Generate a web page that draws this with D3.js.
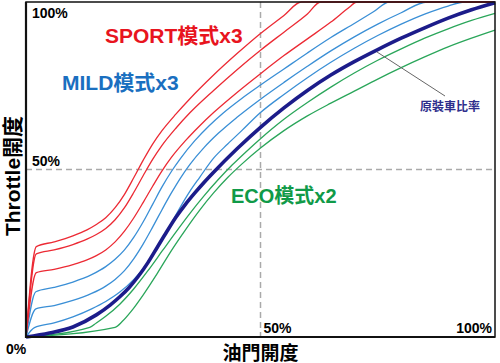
<!DOCTYPE html>
<html>
<head>
<meta charset="utf-8">
<script src="https://cdn.jsdelivr.net/npm/d3@7"></script>
<style>
  body { margin: 0; background: #fff; }
  svg { display: block; font-family: "Liberation Sans", Arial, "Noto Sans CJK TC", sans-serif; }
</style>
</head>
<body>
<div id="chart"></div>
<script>
// throttle maps, input % -> output %
var sport1 = [[0,0],[2.2,27],[6,28.4],[10,30.2],[13,32],[15,33.6],[17,35.6],[19,38.6],[21,42.6],[23,47.6],[25,52.8],[27,57.6],[29,61.6],[32,66.6],[35,71.2],[40,78.2],[45,84.6],[50,90.6],[55,96],[58.7,100],[100,100]];
var sport2 = [[0,0],[2.2,24.8],[6,26],[10,27.6],[13,29.2],[15,30.6],[17,32.4],[19,35],[21,38.6],[23,43.2],[25,48.2],[27,53],[29,57.2],[32,62.4],[35,67],[40,73.6],[45,79.8],[50,85.6],[55,91],[60,96.4],[62.8,100],[100,100]];
var sport3 = [[0,0],[2.2,19.2],[6,20.2],[10,21.6],[13,23],[15,24.3],[17,26],[19,28.4],[21,31.6],[23,35.6],[25,40.2],[27,45],[29,49.6],[31,53.6],[34,58.6],[37,63],[40,67],[45,73],[50,78.6],[55,84],[60,89],[65,94],[69,98.5],[70.5,100],[100,100]];
var mild1 = [[0,0],[2.1,13.5],[6,14.8],[10,16.4],[14,18.6],[17,21],[19,23.2],[21,26],[23,29.8],[25,34.4],[27,39.6],[29,44.8],[31,49.4],[33,53.4],[36,58.6],[39,63],[42,66.8],[46,71.2],[50,75.2],[55,80],[60,84.8],[65,89.4],[70,93.6],[74,97],[77.5,100],[100,100]];
var mild2 = [[0,0],[2.1,8.4],[6,9.4],[10,10.9],[14,13],[17,15.2],[19,17.2],[21,19.8],[23,23.4],[25,27.8],[27,32.8],[29,38],[31,43],[33,47.6],[35,51.6],[38,56.6],[41,60.8],[45,65.6],[50,71],[55,76],[60,80.8],[65,85.4],[70,89.6],[75,93.4],[80,96.8],[85.5,100],[100,100]];
var mild3 = [[0,0],[1.8,2.8],[6,4.2],[10,6],[14,8.4],[17,10.6],[20,13.4],[23,17.2],[25,20.4],[27,24.4],[29,29],[31,34],[33,39],[35,43.6],[37,47.6],[40,53.4],[43,57.6],[46,61.6],[50,67],[55,72.4],[60,77.4],[65,82],[70,86.2],[75,90],[80,93.4],[85,96.4],[90,98.8],[93.5,100],[100,100]];
var stock = [[0,0],[5,1.2],[10,3],[15,6.6],[18,9.6],[20,12],[22,14.8],[24,18.2],[26,22.2],[28,26.8],[30,31.4],[32,35.8],[34,39.6],[36,43],[38,46.2],[40,49.2],[45,56.2],[50,62.6],[55,68.4],[60,73.6],[65,78.2],[70,82.2],[75,85.8],[80,89.2],[85,92.3],[90,95.2],[95,97.7],[100,99.8]];
var eco1 = [[0,0],[13.6,2.9],[15,4.2],[17,6.2],[20,9.8],[23,14.4],[26,19.8],[29,25.6],[32,31.4],[35,37],[38,42.2],[41,47],[44,51.4],[47,55.4],[50,59.2],[55,65],[60,70],[65,74.6],[70,78.8],[75,82.6],[80,86],[85,89.2],[90,92],[95,94.5],[100,96.6]];
var eco2 = [[0,0],[19,2.9],[20.5,4.6],[22.5,7.8],[25,12.6],[28,19],[31,25.8],[34,32],[37,37.8],[40,43],[43,47.6],[46,51.6],[50,56.4],[55,61.6],[60,66],[65,69.8],[70,73.4],[75,77],[80,80.4],[85,83.6],[90,86.6],[95,89.2],[100,91.6]];

var xTickValues = [50, 100];
var xTickLabels = ["50%", "100%"];
var yTickValues = [50, 100];
var yTickLabels = ["50%", "100%"];
var originLabel = "0%";

var width = 500, height = 363;
var margin = {top: 2, right: 5, bottom: 26, left: 26};

var svg = d3.select("#chart").append("svg")
	.attr("width", width)
	.attr("height", height);

var x = d3.scaleLinear().domain([0, 100]).range([margin.left, width - margin.right]);
var y = d3.scaleLinear().domain([0, 100]).range([height - margin.bottom, margin.top]);

// dashed 50% guides
svg.append("line")
	.attr("x1", x(0)).attr("x2", x(100))
	.attr("y1", y(50)).attr("y2", y(50))
	.style("stroke", "#aaa").style("stroke-width", 1.5).style("stroke-dasharray", "6,4");
svg.append("line")
	.attr("x1", x(50)).attr("x2", x(50))
	.attr("y1", y(100)).attr("y2", y(0))
	.style("stroke", "#aaa").style("stroke-width", 1.5).style("stroke-dasharray", "6,4");

var line = d3.line()
	.x(function(d){ return x(d[0]); })
	.y(function(d){ return y(d[1]); })
	.curve(d3.curveMonotoneX);

var series = [
	{data: mild1, color: "#3a8fd6", w: 1.3},
	{data: mild2, color: "#3a8fd6", w: 1.3},
	{data: mild3, color: "#3a8fd6", w: 1.3},
	{data: eco1, color: "#2aa65a", w: 1.3},
	{data: eco2, color: "#2aa65a", w: 1.3},
	{data: sport1, color: "#ec2a34", w: 1.3},
	{data: sport2, color: "#ec2a34", w: 1.3},
	{data: sport3, color: "#ec2a34", w: 1.3},
	{data: stock, color: "#1c1c8a", w: 3.6}
];

svg.append("g")
	.selectAll("path")
	.data(series)
  .enter().append("path")
	.attr("d", function(d){ return line(d.data); })
	.style("fill", "none")
	.style("stroke", function(d){ return d.color; })
	.style("stroke-width", function(d){ return d.w; });

// frame
svg.append("rect")
	.attr("x", x(0)).attr("y", y(100))
	.attr("width", x(100) - x(0)).attr("height", y(0) - y(100))
	.style("fill", "none").style("stroke", "#111").style("stroke-width", 1.5);
svg.append("path")
	.attr("d", "M" + x(0) + "," + y(100) + "V" + y(0) + "H" + x(100))
	.style("fill", "none").style("stroke", "#111").style("stroke-width", 2.2);

// tick labels inside the frame
svg.selectAll(".xt")
	.data(xTickValues)
  .enter().append("text")
	.attr("class", "xt")
	.attr("x", function(d, i){ return i == xTickValues.length - 1 ? x(d) - 3 : x(d) + 3; })
	.attr("y", y(0) - 4)
	.attr("text-anchor", function(d, i){ return i == xTickValues.length - 1 ? "end" : "start"; })
	.style("font-size", "14px").style("font-weight", "bold")
	.text(function(d, i){ return xTickLabels[i]; });

svg.selectAll(".yt")
	.data(yTickValues)
  .enter().append("text")
	.attr("class", "yt")
	.attr("x", x(0) + 6)
	.attr("y", function(d){ return d == 100 ? y(d) + 16 : y(d) - 4; })
	.style("font-size", "14px").style("font-weight", "bold")
	.text(function(d, i){ return yTickLabels[i]; });

svg.append("text")
	.attr("x", 6).attr("y", 354)
	.style("font-size", "14px").style("font-weight", "bold")
	.text(originLabel);

// axis titles
svg.append("text")
	.attr("x", x(50)).attr("y", 360)
	.attr("text-anchor", "middle")
	.style("font-size", "19px").style("font-weight", "bold")
	.text("油門開度");

svg.append("text")
	.attr("transform", "translate(20," + 176 + ") rotate(-90)")
	.attr("text-anchor", "middle")
	.style("font-size", "21px").style("font-weight", "bold")
	.text("Throttle開度");

// series labels
svg.append("text").attr("x", 105).attr("y", 43)
	.style("font-size", "21px").style("font-weight", "bold").style("fill", "#e8141e")
	.text("SPORT模式x3");
svg.append("text").attr("x", 62).attr("y", 90)
	.style("font-size", "21px").style("font-weight", "bold").style("fill", "#1a6fc0")
	.text("MILD模式x3");
svg.append("text").attr("x", 231).attr("y", 203)
	.style("font-size", "20px").style("font-weight", "bold").style("fill", "#109a48")
	.text("ECO模式x2");

// callout for the stock curve
svg.append("line")
	.attr("x1", 377).attr("y1", 52)
	.attr("x2", 445).attr("y2", 96)
	.style("stroke", "#666").style("stroke-width", 1);
svg.append("text").attr("x", 420).attr("y", 111)
	.style("font-size", "12px").style("font-weight", "bold").style("fill", "#2e2e8c")
	.text("原裝車比率");
</script>
</body>
</html>
